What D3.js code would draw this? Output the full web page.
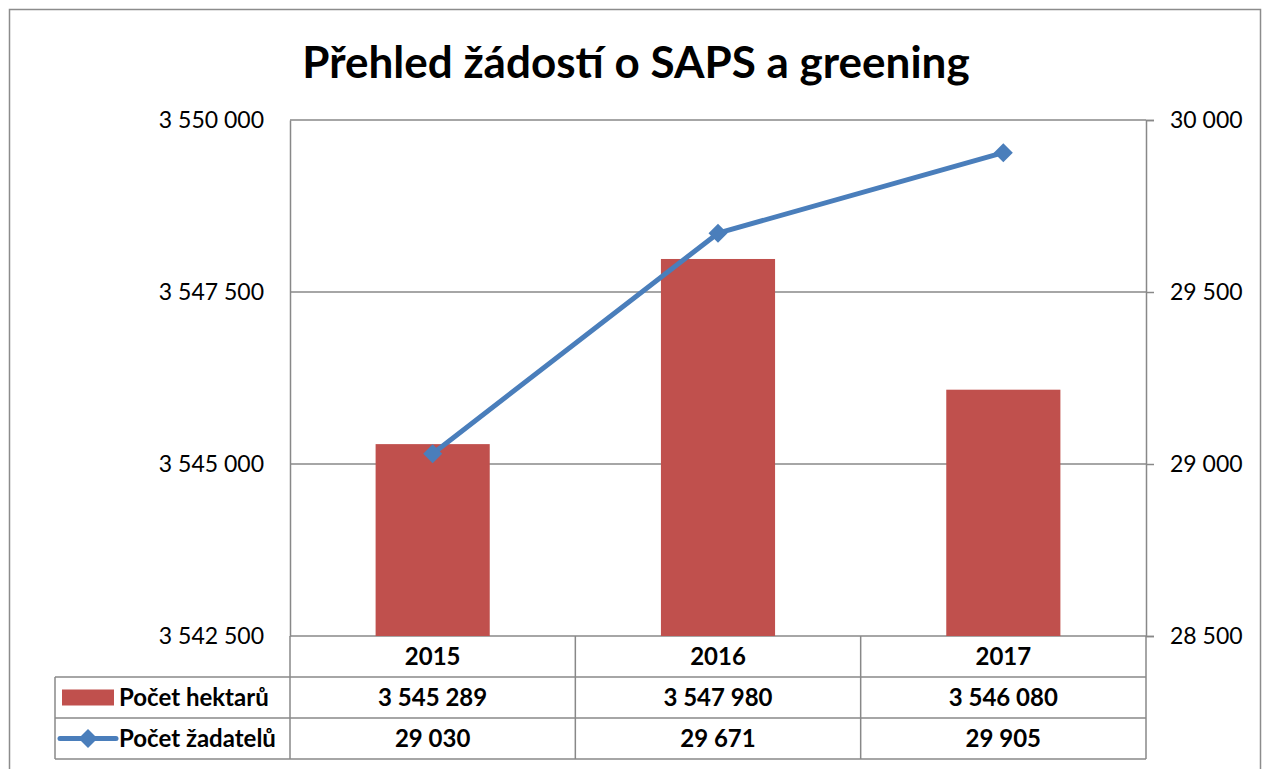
<!DOCTYPE html>
<html>
<head>
<meta charset="utf-8">
<script src="https://cdn.jsdelivr.net/npm/d3@7"></script>
<style>
  html, body { margin: 0; padding: 0; background: #fff; }
  svg { display: block; font-family: Lato, "Open Sans", sans-serif; }
</style>
</head>
<body>
<svg id="chart" width="1265" height="769"></svg>
<script>
// Data
const years = ["2015", "2016", "2017"];
const hectares = [3545289, 3547980, 3546080];     // Počet hektarů (bars, left axis)
const applicants = [29030, 29671, 29905];         // Počet žadatelů (line, right axis)
const leftTicks = [3542500, 3545000, 3547500, 3550000];
const rightTicks = [28500, 29000, 29500, 30000];
const seriesNames = ["Počet hektarů", "Počet žadatelů"];
const title = "Přehled žádostí o SAPS a greening";

const barColor = "#C0504D";
const lineColor = "#4A7EBB";
const gridColor = "#888888";

const cz = d3.formatLocale({ decimal: ",", thousands: "\u00a0", grouping: [3], currency: ["", ""] });
const fmt = cz.format(",d");

const svg = d3.select("#chart");

// Layout
const plot = { left: 290, right: 1146, top: 120, bottom: 636 };
const rowH = 41;
const legendLeft = 55;

// Outer frame
svg.append("rect")
  .attr("x", 9.5).attr("y", 9.5)
  .attr("width", 1251).attr("height", 770)
  .attr("fill", "#fff").attr("stroke", "#8c8c8c").attr("stroke-width", 1.5);

// Title
svg.append("text")
  .attr("x", 636).attr("y", 78)
  .attr("text-anchor", "middle")
  .attr("font-size", 44).attr("font-weight", 700)
  .attr("fill", "#000")
  .text(title);

// Scales
const x = d3.scaleBand().domain(years).range([plot.left, plot.right]).paddingInner(0).paddingOuter(0);
const yL = d3.scaleLinear().domain([3542500, 3550000]).range([plot.bottom, plot.top]);
const yR = d3.scaleLinear().domain([28500, 30000]).range([plot.bottom, plot.top]);

// Gridlines
svg.append("g")
  .selectAll("line")
  .data(leftTicks)
  .join("line")
  .attr("x1", plot.left).attr("x2", plot.right)
  .attr("y1", d => yL(d)).attr("y2", d => yL(d))
  .attr("stroke", gridColor).attr("stroke-width", 1.5);

// Left axis
const axL = svg.append("g")
  .attr("transform", `translate(${plot.left},0)`)
  .call(d3.axisLeft(yL).tickValues(leftTicks).tickFormat(fmt).tickSize(0).tickPadding(26));
axL.select(".domain").attr("stroke", gridColor).attr("stroke-width", 1.5);
axL.selectAll("text").attr("font-size", 23).attr("font-family", "Lato, sans-serif").attr("fill", "#000");

// Right axis
const axR = svg.append("g")
  .attr("transform", `translate(${plot.right},0)`)
  .call(d3.axisRight(yR).tickValues(rightTicks).tickFormat(fmt).tickSize(8).tickPadding(16));
axR.select(".domain").attr("stroke", gridColor).attr("stroke-width", 1.5);
axR.selectAll(".tick line").attr("stroke", gridColor).attr("stroke-width", 1.5);
axR.selectAll("text").attr("font-size", 23).attr("font-family", "Lato, sans-serif").attr("fill", "#000");

// Bars
const barW = x.bandwidth() * 0.4;
svg.append("g")
  .selectAll("rect")
  .data(years)
  .join("rect")
  .attr("x", d => x(d) + (x.bandwidth() - barW) / 2)
  .attr("width", barW)
  .attr("y", (d, i) => yL(hectares[i]))
  .attr("height", (d, i) => plot.bottom - yL(hectares[i]))
  .attr("fill", barColor);

// Line
const cx = d => x(d) + x.bandwidth() / 2;
const line = d3.line().x((d, i) => cx(years[i])).y(d => yR(d));
svg.append("path")
  .datum(applicants)
  .attr("d", line)
  .attr("fill", "none")
  .attr("stroke", lineColor)
  .attr("stroke-width", 5)
  .attr("stroke-linejoin", "round");

const diamond = d3.symbol().type(d3.symbolDiamond2).size(230);
svg.append("g")
  .selectAll("path")
  .data(applicants)
  .join("path")
  .attr("d", diamond)
  .attr("transform", (d, i) => `translate(${cx(years[i])},${yR(d)})`)
  .attr("fill", lineColor);

// Data table
const table = svg.append("g").attr("stroke", gridColor).attr("stroke-width", 1.5);
const tTop = plot.bottom;
const tBottom = plot.bottom + rowH * 3;
[1, 2, 3].forEach(k => {
  table.append("line").attr("x1", legendLeft).attr("x2", plot.right)
    .attr("y1", tTop + rowH * k).attr("y2", tTop + rowH * k);
});
const colEdges = years.map(d => x(d)).concat([plot.right]);
table.selectAll("line.col")
  .data(colEdges)
  .join("line")
  .attr("class", "col")
  .attr("x1", d => d).attr("x2", d => d)
  .attr("y1", tTop).attr("y2", tBottom);
table.append("line").attr("x1", legendLeft).attr("x2", legendLeft)
  .attr("y1", tTop + rowH).attr("y2", tBottom);

const cellText = (xp, yp, t, anchor) => svg.append("text")
  .attr("x", xp).attr("y", yp)
  .attr("text-anchor", anchor || "middle")
  .attr("font-size", 24).attr("font-weight", 700)
  .attr("fill", "#000")
  .text(t);

years.forEach((yv, i) => {
  cellText(cx(yv), tTop + rowH / 2 + 8.5, yv);
  cellText(cx(yv), tTop + rowH * 1.5 + 8.5, fmt(hectares[i]));
  cellText(cx(yv), tTop + rowH * 2.5 + 8.5, fmt(applicants[i]));
});

// Legend keys in the table
const r1 = tTop + rowH * 1.5;
const r2 = tTop + rowH * 2.5;
svg.append("rect")
  .attr("x", 62).attr("y", r1 - 8).attr("width", 52).attr("height", 16)
  .attr("fill", barColor);
svg.append("line")
  .attr("x1", 60).attr("x2", 116).attr("y1", r2).attr("y2", r2)
  .attr("stroke", lineColor).attr("stroke-width", 5).attr("stroke-linecap", "round");
svg.append("path")
  .attr("d", diamond)
  .attr("transform", `translate(88,${r2})`)
  .attr("fill", lineColor);
cellText(119, r1 + 8.5, seriesNames[0], "start");
cellText(119, r2 + 8.5, seriesNames[1], "start");
</script>
</body>
</html>
